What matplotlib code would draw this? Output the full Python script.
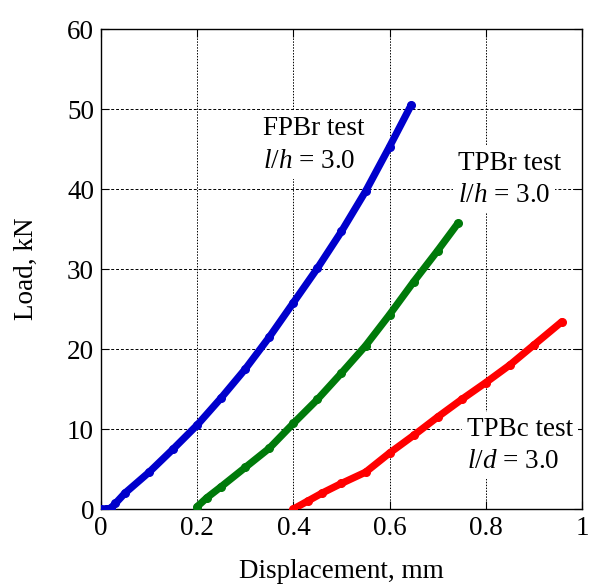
import matplotlib.pyplot as plt
from matplotlib.ticker import FuncFormatter

plt.rcParams['font.family'] = ['Liberation Serif', 'DejaVu Serif']
plt.rcParams['mathtext.fontset'] = 'custom'
plt.rcParams['mathtext.it'] = 'Liberation Serif:italic'
plt.rcParams['mathtext.rm'] = 'Liberation Serif'

# Load–displacement curves (displacement in mm, load in kN)
fpbr_disp = [0.0, 0.01, 0.02, 0.03, 0.05, 0.10, 0.15, 0.20, 0.25, 0.30, 0.35, 0.40,
             0.45, 0.50, 0.55, 0.60, 0.645]
fpbr_load = [0.0, 0.0, 0.1, 0.7, 2.0, 4.6, 7.5, 10.5, 13.9, 17.5, 21.5, 25.8,
             30.1, 34.7, 39.7, 45.3, 50.5]

tpbr_disp = [0.20, 0.22, 0.25, 0.30, 0.35, 0.40, 0.45, 0.50, 0.55, 0.60, 0.65, 0.70, 0.742]
tpbr_load = [0.3, 1.4, 2.8, 5.2, 7.6, 10.7, 13.7, 17.0, 20.4, 24.3, 28.4, 32.3, 35.7]

tpbc_disp = [0.40, 0.43, 0.46, 0.50, 0.55, 0.60, 0.65, 0.70, 0.75, 0.80, 0.85, 0.90, 0.958]
tpbc_load = [0.0, 1.0, 2.0, 3.2, 4.6, 7.0, 9.2, 11.5, 13.7, 15.8, 18.0, 20.5, 23.4]

x_ticks = [0, 0.2, 0.4, 0.6, 0.8, 1.0]
y_ticks = [0, 10, 20, 30, 40, 50, 60]

FS = 19.5

fig = plt.figure(figsize=(5.89, 5.84), dpi=100)
ax = fig.add_axes([0.1715, 0.1284, 0.8165, 0.8219])

for xs, ys, c in [(fpbr_disp, fpbr_load, '#0000CC'),
                  (tpbr_disp, tpbr_load, '#007A0A'),
                  (tpbc_disp, tpbc_load, '#FF0000')]:
    ax.plot(xs, ys, color=c, lw=5.2, marker='o', ms=5.5, solid_capstyle='round',
            solid_joinstyle='round', zorder=3)

ax.set_xlim(0, 1)
ax.set_ylim(0, 60)
ax.set_xticks(x_ticks)
ax.set_yticks(y_ticks)
ax.xaxis.set_major_formatter(FuncFormatter(lambda v, p: f"{v:g}"))
ax.tick_params(direction='in', top=True, right=True, length=6, width=0.8,
               labelsize=FS, pad=5)
ax.grid(axis='x', color='black', ls=(0, (1.5, 1.5)), lw=0.7)
ax.grid(axis='y', color='black', ls=(0, (3, 2)), lw=0.7)
for s in ax.spines.values():
    s.set_linewidth(1.0)

ax.set_xlabel('Displacement, mm', fontsize=FS, labelpad=13)
ax.set_ylabel('Load, kN', fontsize=FS, labelpad=20)

# label blocks sit on white so the grid stops behind them
box = dict(facecolor='white', edgecolor='none', pad=3.5)
ax.text(0.337, 47.6, 'FPBr test', fontsize=FS, va='center', bbox=box)
ax.text(0.337, 43.4, r'$l/h$ = 3.0', fontsize=FS, va='center', bbox=box)
ax.text(0.742, 43.2, 'TPBr test', fontsize=FS, va='center', bbox=box)
ax.text(0.742, 39.2, r'$l/h$ = 3.0', fontsize=FS, va='center', bbox=box)
ax.text(0.761, 9.9, 'TPBc test', fontsize=FS, va='center', bbox=box)
ax.text(0.761, 5.9, r'$l/d$ = 3.0', fontsize=FS, va='center', bbox=box)

fig.savefig('out.png', dpi=100)
